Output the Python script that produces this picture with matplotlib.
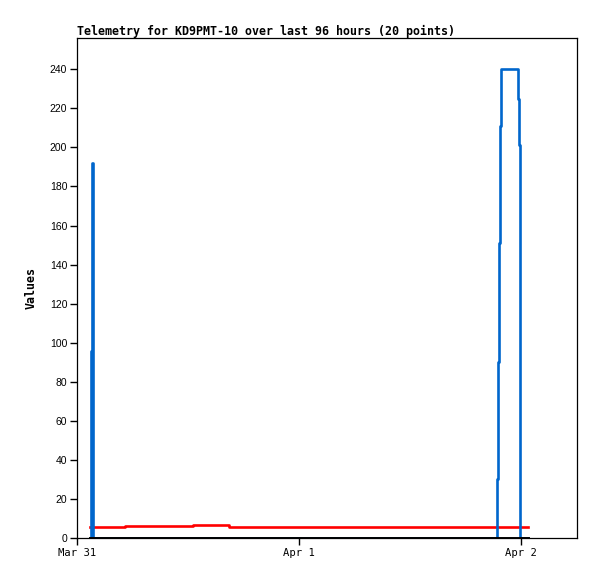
import datetime as dt
import matplotlib
matplotlib.use('Agg')
import matplotlib.pyplot as plt
import matplotlib.dates as mdates

# telemetry samples (20 points)
times = [
    '2024-03-31 01:26', '2024-03-31 01:29', '2024-03-31 01:37', '2024-03-31 01:42',
    '2024-03-31 05:11', '2024-03-31 12:32', '2024-03-31 16:23', '2024-04-01 00:30',
    '2024-04-01 09:10', '2024-04-01 15:40', '2024-04-01 21:24', '2024-04-01 21:31',
    '2024-04-01 21:37', '2024-04-01 21:46', '2024-04-01 21:50', '2024-04-01 22:50',
    '2024-04-01 23:40', '2024-04-01 23:50', '2024-04-01 23:56', '2024-04-02 00:43',
]
canal_azul = [0, 96, 192, 0, 0, 0, 0, 0, 0, 0,
              30, 90, 151, 211, 240, 240, 225, 201, 0, 0]
canal_vermelho = [5.8, 5.8, 5.8, 5.8, 6.3, 6.8, 5.8, 5.8, 5.8, 5.8,
                  5.8, 5.8, 5.8, 5.8, 5.8, 5.8, 5.8, 5.8, 5.8, 5.8]
canal_preto = [0] * 20

rotulos_x = ['Mar 31', 'Apr 1', 'Apr 2']
datas_x = ['2024-03-31', '2024-04-01', '2024-04-02']
ticks_y = list(range(0, 241, 20))


def gerar_grafico():
    t = [dt.datetime.strptime(s, '%Y-%m-%d %H:%M') for s in times]
    fig = plt.figure(figsize=(5.97, 5.79), dpi=100)
    ax = fig.add_axes([77 / 597, 41 / 579, 500 / 597, 500 / 579])

    ax.plot(t, canal_vermelho, drawstyle='steps-post', color='#ff0000', lw=1.9)
    ax.plot(t, canal_azul, drawstyle='steps-post', color='#0066cc', lw=1.9)
    ax.plot(t, canal_preto, drawstyle='steps-post', color='black', lw=2.1)

    inicio = dt.datetime(2024, 3, 31)
    ax.set_xlim(mdates.date2num(inicio), mdates.date2num(inicio) + 500 / 222)
    ax.set_ylim(0, 256)

    ax.set_xticks([mdates.date2num(dt.datetime.strptime(d, '%Y-%m-%d')) for d in datas_x])
    ax.set_xticklabels(rotulos_x, family='DejaVu Sans Mono', fontsize=7.6)
    ax.set_yticks(ticks_y)
    ax.set_yticklabels([str(v) for v in ticks_y], family='Liberation Sans', fontsize=7.5)
    ax.tick_params(direction='out', length=5, width=1, pad=2)

    for s in ax.spines.values():
        s.set_linewidth(0.9)

    ax.set_title('Telemetry for KD9PMT-10 over last 96 hours (20 points)',
                 loc='left', family='DejaVu Sans Mono', fontweight='bold',
                 fontsize=8.4, pad=2)
    ax.set_ylabel('Values', family='DejaVu Sans Mono', fontweight='bold',
                  fontsize=8.4, labelpad=9)

    fig.savefig('out.png', dpi=100)


def main():
    gerar_grafico()


if __name__ == "__main__":
    main()
